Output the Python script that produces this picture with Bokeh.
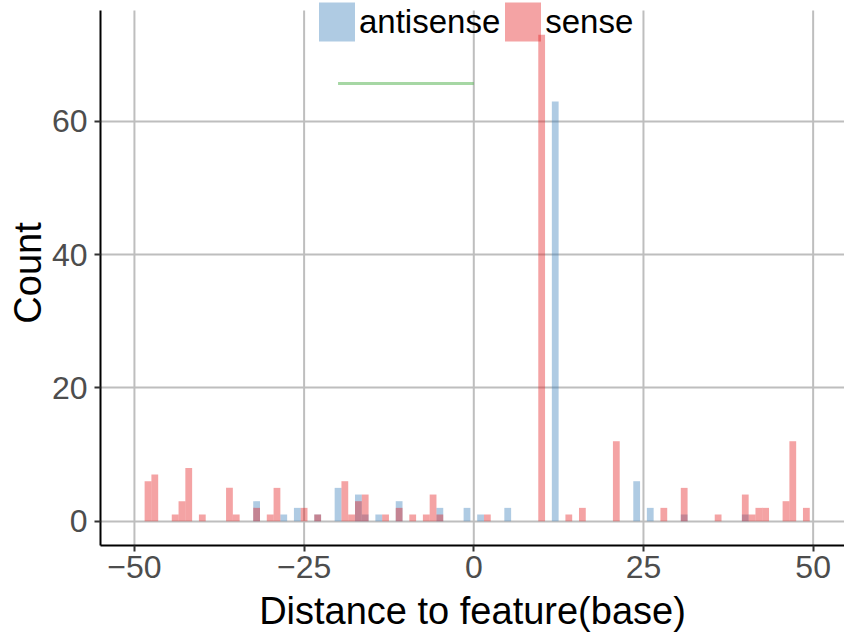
from bokeh.plotting import figure
from bokeh.models import Legend, LegendItem, FixedTicker, Range1d, ColumnDataSource
from bokeh.embed import file_html
from bokeh.resources import INLINE

# ---- data ----
antisense_x = [-32, -28, -26, -23, -20, -17, -16, -14, -11, -5, -1, 1, 5, 12, 24, 26, 31, 40]
antisense_n = [3, 1, 2, 1, 5, 4, 1, 1, 3, 2, 2, 1, 2, 63, 6, 2, 1, 1]

sense_x = [-48, -47, -44, -43, -42, -40, -36, -35, -32, -30, -29, -25, -23, -19, -18, -17, -16,
           -13, -11, -9, -7, -6, -5, 2, 10, 14, 16, 21, 28, 31, 36, 40, 41, 42, 43, 46, 47, 49]
sense_n = [6, 7, 1, 3, 8, 1, 5, 1, 2, 1, 5, 2, 1, 6, 1, 3, 4,
           1, 2, 1, 1, 4, 1, 1, 73, 1, 2, 12, 2, 5, 1, 4, 1, 2, 2, 3, 12, 2]

seg_x0 = [-20]
seg_x1 = [0]
seg_y = [65.7]

x_ticks = [-50, -25, 0, 25, 50]
x_tick_labels = ["\u221250", "\u221225", "0", "25", "50"]
y_ticks = [0, 20, 40, 60]

Y_LO, Y_HI = -3.65, 76.65        # panel limits
Y_TOP = 78.15                    # a little headroom above the panel for the legend

FONT = "Liberation Sans"

p = figure(width=844, height=634, output_backend="svg", toolbar_location=None,
           x_range=Range1d(-55, 54.62), y_range=Range1d(Y_LO, Y_TOP),
           min_border_left=100, min_border_right=0, min_border_top=0, min_border_bottom=89)
p.outline_line_color = None
p.background_fill_color = "white"

# grid
p.xgrid.visible = False
p.ygrid.ticker = FixedTicker(ticks=y_ticks)
p.ygrid.grid_line_color = "#bebebe"
p.ygrid.grid_line_width = 2
p.segment(x0=x_ticks, y0=[Y_LO] * len(x_ticks), x1=x_ticks, y1=[Y_HI] * len(x_ticks),
          line_color="#bebebe", line_width=2)

src_a = ColumnDataSource(dict(x=antisense_x, top=antisense_n))
src_s = ColumnDataSource(dict(x=sense_x, top=sense_n))
r_a = p.vbar(x="x", top="top", width=1, bottom=0, source=src_a,
             fill_color="#377EB8", fill_alpha=0.4, line_color=None)
r_s = p.vbar(x="x", top="top", width=1, bottom=0, source=src_s,
             fill_color="#E41A1C", fill_alpha=0.4, line_color=None)

p.segment(x0=seg_x0, y0=seg_y, x1=seg_x1, y1=seg_y,
          line_color="#4DAF4A", line_alpha=0.5, line_width=3)

# axes
p.xaxis.ticker = FixedTicker(ticks=x_ticks)
p.xaxis.major_label_overrides = {t: l for t, l in zip(x_ticks, x_tick_labels)}
p.yaxis.ticker = FixedTicker(ticks=y_ticks)
p.yaxis.bounds = (Y_LO, Y_HI)
for ax in (p.xaxis, p.yaxis):
    ax.axis_line_color = "black"
    ax.axis_line_width = 2
    ax.major_tick_line_color = "#333333"
    ax.major_tick_line_width = 2
    ax.major_tick_out = 6
    ax.major_tick_in = 0
    ax.minor_tick_line_color = None
    ax.major_label_text_font = FONT
    ax.major_label_text_font_size = "32px"
    ax.major_label_text_color = "#4d4d4d"
    ax.axis_label_text_font = FONT
    ax.axis_label_text_font_size = "38px"
    ax.axis_label_text_font_style = "normal"
    ax.axis_label_text_color = "black"
p.xaxis.major_label_standoff = 4
p.yaxis.major_label_standoff = 7
p.xaxis.axis_label = "Distance to feature(base)"
p.yaxis.axis_label = "Count"
p.xaxis.axis_label_standoff = 9
p.yaxis.axis_label_standoff = 0

legend = Legend(items=[LegendItem(label="antisense", renderers=[r_a]),
                       LegendItem(label="sense", renderers=[r_s])],
                orientation="horizontal", location=(214, 499),
                glyph_width=45, glyph_height=49, label_height=49,
                label_text_font=FONT, label_text_font_size="33px", label_text_color="black",
                label_standoff=0, spacing=0, padding=0, margin=0,
                border_line_color=None, background_fill_alpha=0)
p.add_layout(legend)

open("out.html", "w").write(file_html(p, INLINE))
